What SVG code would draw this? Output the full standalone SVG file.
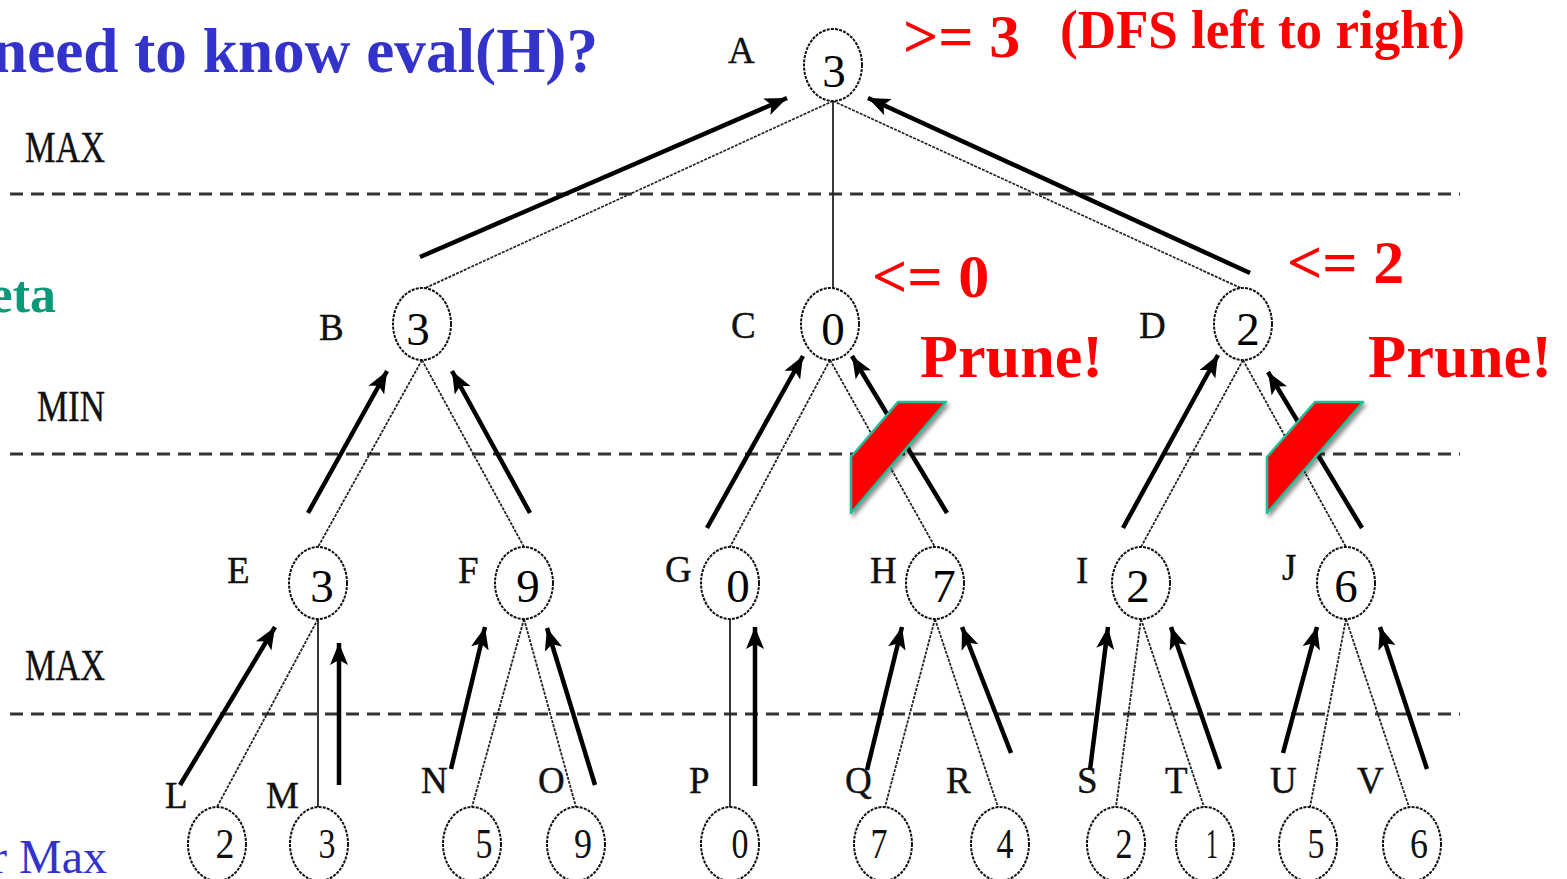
<svg xmlns="http://www.w3.org/2000/svg" width="1567" height="879" viewBox="0 0 1567 879">
<defs>
<marker id="ah" markerUnits="userSpaceOnUse" markerWidth="24" markerHeight="20" viewBox="0 0 24 20" refX="22" refY="10" orient="auto">
<path d="M0,1 L22,10 L0,19 L5,10 Z" fill="#000"/>
</marker>
<filter id="sh" x="-30%" y="-30%" width="160%" height="160%">
<feDropShadow dx="2" dy="3" stdDeviation="2" flood-color="#000" flood-opacity="0.45"/>
</filter>
<style>
.nd{fill:#fff;stroke:#111;stroke-width:2;stroke-dasharray:3 1.2}
.lb{font-family:"Liberation Serif","Times New Roman",serif;font-size:37px;fill:#111;stroke:#111;stroke-width:0.4}
.v{font-family:"Liberation Serif","Times New Roman",serif;font-size:47px;fill:#000;text-anchor:middle}
.lv{font-family:"Liberation Serif","Times New Roman",serif;font-size:42px;fill:#111;text-anchor:middle}
.lvl{font-family:"Liberation Serif","Times New Roman",serif;font-size:44px;fill:#111;stroke:#111;stroke-width:0.4}
.dash{stroke:#333;stroke-width:3;stroke-dasharray:13 8;fill:none}
.e{stroke:#222;stroke-width:1.8;fill:none;stroke-dasharray:3 1.2}
.es{stroke:#222;stroke-width:1.8;fill:none}
.ar{stroke:#000;stroke-width:4.5;fill:none;marker-end:url(#ah)}
.red{font-family:"Liberation Serif","Times New Roman",serif;font-weight:bold;fill:#ff0000}
.prune{fill:#ff0000;stroke:#1fbf9a;stroke-width:2.5;stroke-linejoin:round;filter:url(#sh)}
</style>
</defs>
<rect width="1567" height="879" fill="#fff"/>

<g id="title">
<text x="-8" y="72" font-family="Liberation Serif, Times New Roman, serif" font-weight="bold" font-size="63" fill="#3333cc" textLength="606" lengthAdjust="spacingAndGlyphs">need to know eval(H)?</text>
<text x="56" y="312" text-anchor="end" font-family="Liberation Serif, Times New Roman, serif" font-weight="bold" font-size="52" fill="#0a9a78">eta</text>
<text x="107" y="873" text-anchor="end" font-family="Liberation Serif, Times New Roman, serif" font-size="48" fill="#3333cc">r Max</text>
</g>

<g id="levels">
<line class="dash" x1="10" y1="194" x2="1460" y2="194"/>
<line class="dash" x1="10" y1="454" x2="1460" y2="454"/>
<line class="dash" x1="10" y1="714" x2="1460" y2="714"/>
<text class="lvl" x="25" y="162" textLength="80" lengthAdjust="spacingAndGlyphs">MAX</text>
<text class="lvl" x="37" y="421" textLength="68" lengthAdjust="spacingAndGlyphs">MIN</text>
<text class="lvl" x="25" y="680" textLength="80" lengthAdjust="spacingAndGlyphs">MAX</text>
</g>

<g id="connectors">
<line class="e" x1="833" y1="101" x2="423" y2="289"/>
<line class="es" x1="833" y1="101" x2="833" y2="289"/>
<line class="e" x1="833" y1="101" x2="1243" y2="289"/>
<line class="e" x1="422" y1="360" x2="318" y2="547"/>
<line class="e" x1="422" y1="360" x2="524" y2="547"/>
<line class="e" x1="830" y1="360" x2="730" y2="547"/>
<line class="e" x1="830" y1="360" x2="935" y2="547"/>
<line class="e" x1="1243" y1="360" x2="1141" y2="547"/>
<line class="e" x1="1243" y1="360" x2="1346" y2="547"/>
<line class="e" x1="318" y1="619" x2="217" y2="807"/>
<line class="es" x1="318" y1="619" x2="318" y2="807"/>
<line class="e" x1="524" y1="619" x2="472" y2="807"/>
<line class="e" x1="524" y1="619" x2="576" y2="807"/>
<line class="es" x1="730" y1="619" x2="730" y2="807"/>
<line class="e" x1="935" y1="619" x2="885" y2="807"/>
<line class="e" x1="935" y1="619" x2="998" y2="807"/>
<line class="e" x1="1141" y1="619" x2="1116" y2="807"/>
<line class="e" x1="1141" y1="619" x2="1204" y2="807"/>
<line class="e" x1="1346" y1="619" x2="1310" y2="807"/>
<line class="e" x1="1346" y1="619" x2="1409" y2="807"/>

<line class="ar" x1="420" y1="257" x2="787" y2="98"/>
<line class="ar" x1="1250" y1="273" x2="868" y2="98"/>
<line class="ar" x1="308" y1="513" x2="387" y2="371"/>
<line class="ar" x1="530" y1="513" x2="452" y2="371"/>
<line class="ar" x1="707" y1="528" x2="803" y2="356"/>
<line class="ar" x1="947" y1="513" x2="852" y2="356"/>
<line class="ar" x1="1123" y1="528" x2="1218" y2="355"/>
<line class="ar" x1="1362" y1="528" x2="1268" y2="372"/>
<line class="ar" x1="180" y1="785" x2="275" y2="627"/>
<line class="ar" x1="339" y1="785" x2="339" y2="643"/>
<line class="ar" x1="451" y1="769" x2="485" y2="627"/>
<line class="ar" x1="595" y1="785" x2="547" y2="628"/>
<line class="ar" x1="755" y1="786" x2="755" y2="627"/>
<line class="ar" x1="867" y1="770" x2="902" y2="627"/>
<line class="ar" x1="1011" y1="753" x2="962" y2="627"/>
<line class="ar" x1="1090" y1="770" x2="1108" y2="627"/>
<line class="ar" x1="1220" y1="769" x2="1171" y2="627"/>
<line class="ar" x1="1283" y1="753" x2="1317" y2="627"/>
<line class="ar" x1="1427" y1="769" x2="1380" y2="627"/>
</g>

<g id="node-A"><ellipse class="nd" cx="833" cy="65" rx="29" ry="36"/><text class="lb" x="728" y="63">A</text><text class="v" x="834" y="87">3</text></g>
<g id="node-B"><ellipse class="nd" cx="422" cy="324" rx="29" ry="36"/><text class="lb" x="319" y="340">B</text><text class="v" x="418" y="345">3</text></g>
<g id="node-C"><ellipse class="nd" cx="830" cy="324" rx="29" ry="36"/><text class="lb" x="731" y="338">C</text><text class="v" x="833" y="345">0</text></g>
<g id="node-D"><ellipse class="nd" cx="1243" cy="324" rx="29" ry="36"/><text class="lb" x="1139" y="338">D</text><text class="v" x="1248" y="345">2</text></g>

<g id="node-E"><ellipse class="nd" cx="318" cy="583" rx="29" ry="36"/><text class="lb" x="227" y="583">E</text><text class="v" x="322" y="602">3</text></g>
<g id="node-F"><ellipse class="nd" cx="524" cy="583" rx="29" ry="36"/><text class="lb" x="458" y="583">F</text><text class="v" x="528" y="602">9</text></g>
<g id="node-G"><ellipse class="nd" cx="730" cy="583" rx="29" ry="36"/><text class="lb" x="665" y="582">G</text><text class="v" x="738" y="602">0</text></g>
<g id="node-H"><ellipse class="nd" cx="935" cy="583" rx="29" ry="36"/><text class="lb" x="870" y="583">H</text><text class="v" x="944" y="602">7</text></g>
<g id="node-I"><ellipse class="nd" cx="1141" cy="583" rx="29" ry="36"/><text class="lb" x="1076" y="583">I</text><text class="v" x="1138" y="602">2</text></g>
<g id="node-J"><ellipse class="nd" cx="1346" cy="583" rx="29" ry="36"/><text class="lb" x="1282" y="580">J</text><text class="v" x="1346" y="602">6</text></g>

<g id="node-L"><ellipse class="nd" cx="217" cy="844" rx="29" ry="37"/><text class="lb" x="165" y="808">L</text><text class="lv" x="225" y="858" textLength="19" lengthAdjust="spacingAndGlyphs">2</text></g>
<g id="node-M"><ellipse class="nd" cx="319" cy="844" rx="29" ry="37"/><text class="lb" x="266" y="808">M</text><text class="lv" x="327" y="858" textLength="17" lengthAdjust="spacingAndGlyphs">3</text></g>
<g id="node-N"><ellipse class="nd" cx="472" cy="844" rx="29" ry="37"/><text class="lb" x="421" y="793">N</text><text class="lv" x="484" y="858" textLength="17" lengthAdjust="spacingAndGlyphs">5</text></g>
<g id="node-O"><ellipse class="nd" cx="576" cy="844" rx="29" ry="37"/><text class="lb" x="538" y="793">O</text><text class="lv" x="583" y="858" textLength="18" lengthAdjust="spacingAndGlyphs">9</text></g>
<g id="node-P"><ellipse class="nd" cx="730" cy="844" rx="29" ry="37"/><text class="lb" x="689" y="793">P</text><text class="lv" x="740" y="858" textLength="17" lengthAdjust="spacingAndGlyphs">0</text></g>
<g id="node-Q"><ellipse class="nd" cx="883" cy="844" rx="29" ry="37"/><text class="lb" x="845" y="793">Q</text><text class="lv" x="879" y="858" textLength="17" lengthAdjust="spacingAndGlyphs">7</text></g>
<g id="node-R"><ellipse class="nd" cx="1000" cy="844" rx="29" ry="37"/><text class="lb" x="946" y="793">R</text><text class="lv" x="1005" y="858" textLength="17" lengthAdjust="spacingAndGlyphs">4</text></g>
<g id="node-S"><ellipse class="nd" cx="1116" cy="844" rx="29" ry="37"/><text class="lb" x="1077" y="793">S</text><text class="lv" x="1124" y="858" textLength="17" lengthAdjust="spacingAndGlyphs">2</text></g>
<g id="node-T"><ellipse class="nd" cx="1205" cy="844" rx="29" ry="37"/><text class="lb" x="1165" y="793">T</text><text class="lv" x="1212" y="858" textLength="12" lengthAdjust="spacingAndGlyphs">1</text></g>
<g id="node-U"><ellipse class="nd" cx="1308" cy="844" rx="29" ry="37"/><text class="lb" x="1270" y="793">U</text><text class="lv" x="1316" y="858" textLength="17" lengthAdjust="spacingAndGlyphs">5</text></g>
<g id="node-V"><ellipse class="nd" cx="1412" cy="844" rx="29" ry="37"/><text class="lb" x="1357" y="793">V</text><text class="lv" x="1419" y="858" textLength="18" lengthAdjust="spacingAndGlyphs">6</text></g>

<g id="annotations">
<text class="red" x="903" y="57" font-size="62">&gt;= 3</text>
<text class="red" x="1060" y="48" font-size="54" textLength="405" lengthAdjust="spacingAndGlyphs">(DFS left to right)</text>
<text class="red" x="872" y="297" font-size="62">&lt;= 0</text>
<text class="red" x="1287" y="283" font-size="62">&lt;= 2</text>
<text class="red" x="920" y="377" font-size="62" textLength="183" lengthAdjust="spacingAndGlyphs">Prune!</text>
<text class="red" x="1368" y="377" font-size="62" textLength="184" lengthAdjust="spacingAndGlyphs">Prune!</text>
</g>

<g id="prune-marks">
<polygon class="prune" points="898,402 946,402 851,513 851,457"/>
<polygon class="prune" points="1315,402 1363,402 1267,513 1267,457"/>
</g>
</svg>
